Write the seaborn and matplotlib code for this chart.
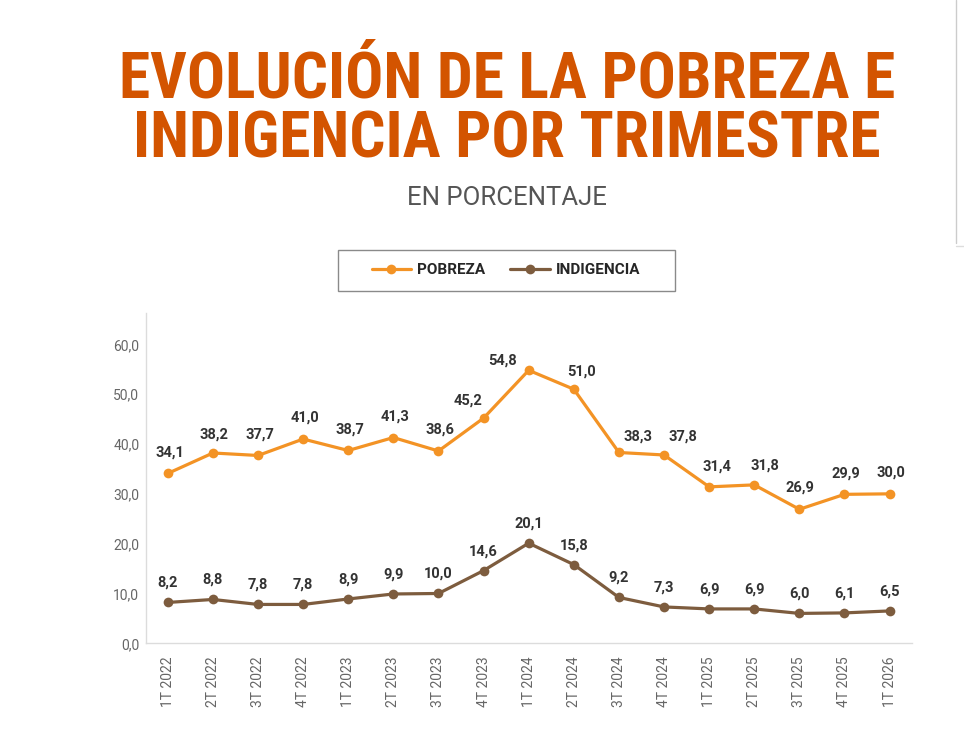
import matplotlib
matplotlib.use("Agg")
import matplotlib.pyplot as plt
import matplotlib.font_manager as fm
from matplotlib.lines import Line2D
from matplotlib.patches import Rectangle
from matplotlib.ticker import FuncFormatter
import seaborn as sns
import pandas as pd
import numpy as np

# ---------------- data ----------------
quarters = ["1T 2022", "2T 2022", "3T 2022", "4T 2022",
            "1T 2023", "2T 2023", "3T 2023", "4T 2023",
            "1T 2024", "2T 2024", "3T 2024", "4T 2024",
            "1T 2025", "2T 2025", "3T 2025", "4T 2025",
            "1T 2026"]
pobreza = [34.1, 38.2, 37.7, 41.0, 38.7, 41.3, 38.6, 45.2, 54.8,
           51.0, 38.3, 37.8, 31.4, 31.8, 26.9, 29.9, 30.0]
indigencia = [8.2, 8.8, 7.8, 7.8, 8.9, 9.9, 10.0, 14.6, 20.1,
              15.8, 9.2, 7.3, 6.9, 6.9, 6.0, 6.1, 6.5]
series_names = ["POBREZA", "INDIGENCIA"]
y_ticks = [0, 10, 20, 30, 40, 50, 60]
title_lines = ["EVOLUCIÓN DE LA POBREZA E", "INDIGENCIA POR TRIMESTRE"]
subtitle = "EN PORCENTAJE"

# ---------------- style ----------------
colors = {"POBREZA": "#F39325", "INDIGENCIA": "#7D5C3E"}
title_color = "#D35400"
label_color = "#333333"
tick_color = "#666666"
# label offsets in pixels (dx, dy) to mimic the reference's placement
pob_offsets = [(2, 21), (1, 18), (2, 21), (2, 21), (2, 21), (2, 21), (2, 21),
               (-16, 18), (-26, 10), (8, 18), (19, 16), (19, 18), (8, 20),
               (11, 19), (1, 22), (1, 21), (1, 21)]
ind_offsets = [(0, 19.5)] * len(indigencia)

sns.set_style("white")
plt.rcParams["font.family"] = ["Roboto", "DejaVu Sans"]


# ---------------- pick a condensed bold font for the title ----------------
def _weight_num(w):
    if isinstance(w, (int, float)):
        return w
    table = {"thin": 100, "extralight": 200, "ultralight": 200, "light": 300,
             "normal": 400, "regular": 400, "book": 400, "medium": 500,
             "roman": 400, "semibold": 600, "demibold": 600, "demi": 600,
             "bold": 700, "extrabold": 800, "heavy": 900, "black": 900}
    return table.get(str(w).lower(), 400)


def pick_title_font():
    fam_rank = ["roboto", "liberation", "noto sans", "open sans", "lato", "inter", "dejavu"]
    best = None
    for f in fm.fontManager.ttflist:
        nm = f.name.lower()
        fn = str(f.fname).lower()
        st = str(f.stretch).lower()
        cond = ("condensed" in nm or "narrow" in nm or "condensed" in fn or "narrow" in fn
                or st in ("condensed", "semi-condensed", "extra-condensed"))
        if not cond:
            continue
        if "italic" in fn or "oblique" in fn or str(f.style) != "normal":
            continue
        if "cjk" in nm or "mono" in nm:
            continue
        w = _weight_num(f.weight)
        if w < 600:
            continue
        fr = next((i for i, k in enumerate(fam_rank) if k in nm), len(fam_rank))
        extra = 1 if ("extra" in fn or "extra" in st or "ultra" in fn or "semi" in fn or "semi" in st) else 0
        score = (fr, extra, abs(w - 700))
        if best is None or score < best[0]:
            best = (score, f.fname)
    if best is not None:
        return fm.FontProperties(fname=best[1])
    return fm.FontProperties(family=["Roboto", "DejaVu Sans"], weight="bold")


title_fp = pick_title_font()

df = pd.DataFrame({
    "trimestre": quarters * 2,
    "valor": pobreza + indigencia,
    "serie": [series_names[0]] * len(quarters) + [series_names[1]] * len(quarters),
})

W, H = 964, 745
fig = plt.figure(figsize=(W / 100, H / 100), dpi=100)
fig.patch.set_facecolor("white")

left, right, bottom, top = 145.7, 911.7, 643.3, 312.5
ax = fig.add_axes([left / W, 1 - bottom / H, (right - left) / W, (bottom - top) / H])

sns.lineplot(data=df, x="trimestre", y="valor", hue="serie", hue_order=series_names,
             palette=colors, marker="o", markersize=7, markeredgewidth=0,
             linewidth=2.3, sort=False, legend=False, ax=ax)

ax.set_xlim(-0.49, len(quarters) - 1 + 0.49)
ax.set_ylim(0, 66.4)
ax.set_yticks(y_ticks)
ax.yaxis.set_major_formatter(FuncFormatter(lambda v, p: f"{v:.1f}".replace(".", ",")))
ax.set_xticks(range(len(quarters)))
ax.set_xticklabels(quarters, rotation=90)
ax.set_xlabel("")
ax.set_ylabel("")
ax.tick_params(axis="y", length=0, pad=4.6, labelsize=10, labelcolor=tick_color)
ax.tick_params(axis="x", length=0, pad=9.4, labelsize=10, labelcolor=tick_color)
for s in ["top", "right"]:
    ax.spines[s].set_visible(False)
for s in ["left", "bottom"]:
    ax.spines[s].set_color("#dcdcdc")
    ax.spines[s].set_linewidth(1.0)
ax.grid(False)


def fmt(v):
    return f"{v:.1f}".replace(".", ",")


for i, v in enumerate(pobreza):
    dx, dy = pob_offsets[i]
    ax.annotate(fmt(v), (i, v), xytext=(dx, dy), textcoords="offset pixels",
                ha="center", va="center", fontsize=10.5, fontweight="bold",
                color=label_color)
for i, v in enumerate(indigencia):
    dx, dy = ind_offsets[i]
    ax.annotate(fmt(v), (i, v), xytext=(dx, dy), textcoords="offset pixels",
                ha="center", va="center", fontsize=10.5, fontweight="bold",
                color=label_color)

# ---------------- legend ----------------
handles = [Line2D([0], [0], color=colors[n], lw=2.3, marker="o", markersize=7,
                  markeredgewidth=0) for n in series_names]
leg = fig.legend(handles, series_names, loc="center", ncol=2, frameon=False,
                 bbox_to_anchor=(506 / W, 1 - 270 / H),
                 prop={"family": ["Roboto", "DejaVu Sans"], "weight": "bold", "size": 11},
                 handlelength=2.6, handletextpad=0.4, columnspacing=1.6)
fig.patches.append(Rectangle((337.5 / W, 1 - 291 / H), (675 - 337.5) / W, 41.5 / H,
                             transform=fig.transFigure, fill=False,
                             edgecolor="#8a8a8a", linewidth=1.0))

# ---------------- titles ----------------
cx = 507 / W
t1 = fig.text(cx, 1 - 97 / H, title_lines[0], ha="center", va="baseline",
              fontproperties=title_fp, color=title_color)
t2 = fig.text(cx, 1 - 157 / H, title_lines[1], ha="center", va="baseline",
              fontproperties=title_fp, color=title_color)
t1.set_fontsize(44)
t2.set_fontsize(44)
fig.canvas.draw()
r = fig.canvas.get_renderer()
w1 = t1.get_window_extent(r).width
size = 44 * 777.0 / w1
# keep the cap height near the reference (~45 px) if the font is very wide
t1.set_fontsize(size)
t2.set_fontsize(size)

fig.text(cx, 1 - 205 / H, subtitle, ha="center", va="baseline",
         family=["Roboto", "DejaVu Sans"], fontsize=18.5, color="#555555")

# screenshot edge line on the right
fig.add_artist(Line2D([955.5 / W, 955.5 / W], [1.0, 1 - 243 / H],
                      transform=fig.transFigure, color="#cccccc", lw=1.0))
fig.add_artist(Line2D([955.5 / W, 1.0], [1 - 246 / H, 1 - 246 / H],
                      transform=fig.transFigure, color="#dddddd", lw=1.0))

fig.savefig("out.png", dpi=100, facecolor="white")
